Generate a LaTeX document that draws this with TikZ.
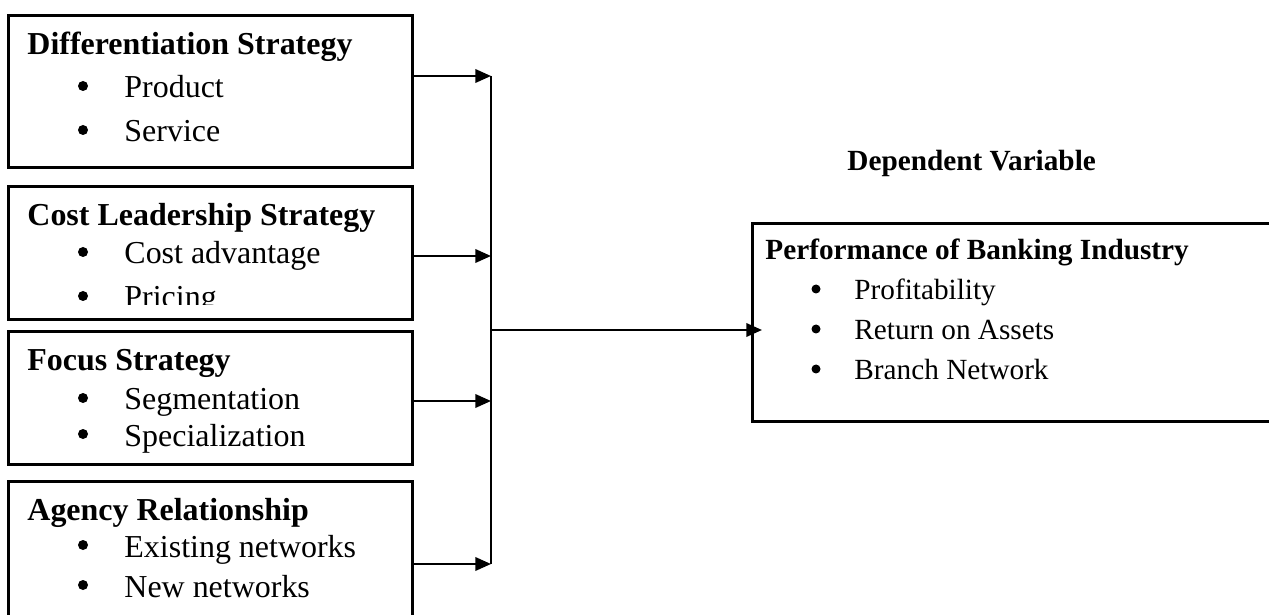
\documentclass[tikz,border=0pt]{standalone}
\usepackage{fontspec}
\setmainfont{Liberation Serif}
\usetikzlibrary{arrows.meta,positioning,calc}
\newcommand{\px}{0.4444pt}

\begin{document}
\begin{tikzpicture}[x=\px,y=-\px,font=\fontsize{14.2}{17}\selectfont,
    >={Triangle[length=7pt,width=6pt]},
    box/.style={draw,line width=1.3pt,anchor=north west,inner sep=0pt,minimum width=404*\px},
    head/.style={anchor=base west,inner sep=0pt,execute at begin node=\bfseries},
    item/.style={anchor=base west,inner sep=0pt},
    dot/.style={circle,fill,inner sep=0pt,minimum size=10*\px,yshift=12*\px},
    small/.style={font=\fontsize{13}{15.6}\selectfont},
    link/.style={->,line width=1pt}]
  \useasboundingbox (0,0) rectangle (1269,615);
  \clip (0,0) rectangle (1269,615);
  % independent variables
  \node[box,minimum height=152*\px] (diff) at (7,14) {};
  \node[head] (diffh) at (27,55) {Differentiation Strategy};
  \node[dot] (d1) at (83,98) {};  \node[item] (d1t) at (124,98) {Product};
  \node[dot] (d2) at (83,142) {}; \node[item] (d2t) at (124,142) {Service};

  \node[box,minimum height=133*\px] (cost) at (7,185) {};
  \node[head] (costh) at (27,226) {Cost Leadership Strategy};
  \node[dot] (c1) at (83,264) {}; \node[item] (c1t) at (124,264) {Cost advantage};
  \begin{scope}
    \clip (7,185) rectangle (411,305);
    \node[dot] (c2) at (83,308) {}; \node[item] (c2t) at (124,308) {Pricing};
  \end{scope}

  \node[box,minimum height=133*\px] (focus) at (7,330) {};
  \node[head] (focush) at (27,371) {Focus Strategy};
  \node[dot] (f1) at (83,410) {}; \node[item] (f1t) at (124,410) {Segmentation};
  \node[dot] (f2) at (83,446) {}; \node[item] (f2t) at (124,446) {Specialization};

  \node[box,minimum height=180*\px] (agency) at (7,480) {};
  \node[head] (agencyh) at (27,520) {Agency Relationship};
  \node[dot] (a1) at (83,557) {}; \node[item] (a1t) at (124,557) {Existing networks};
  \node[dot] (a2) at (83,597) {}; \node[item] (a2t) at (124,597) {New networks};

  % dependent variable
  \begin{scope}[small]
    \node[head] (deplabel) at (847,171) {Dependent Variable};
    \node[box,minimum width=549*\px,minimum height=198*\px] (perf) at (751,222) {};
    \node[head] (perfh) at (765,260) {Performance of Banking Industry};
    \node[dot,minimum size=9*\px,yshift=-1*\px] (p1) at (816,300) {}; \node[item] (p1t) at (854,300) {Profitability};
    \node[dot,minimum size=9*\px,yshift=-1*\px] (p2) at (816,340) {}; \node[item] (p2t) at (854,340) {Return on Assets};
    \node[dot,minimum size=9*\px,yshift=-1*\px] (p3) at (816,380) {}; \node[item] (p3t) at (854,380) {Branch Network};
  \end{scope}

  % connectors
  \coordinate (j1) at (491,76);
  \coordinate (j2) at (491,256);
  \coordinate (j3) at (491,401);
  \coordinate (j4) at (491,564);
  \coordinate (mid) at (491,330);
  \draw[line width=1pt] (j1) -- (j4);
  \draw[link] (diff.east |- j1) -- (j1);
  \draw[link] (cost.east |- j2) -- (j2);
  \draw[link] (focus.east |- j3) -- (j3);
  \draw[link] (agency.east |- j4) -- (j4);
  \draw[link,shorten >=-11*\px] (mid) -- (perf.west |- mid);
\end{tikzpicture}
\end{document}
